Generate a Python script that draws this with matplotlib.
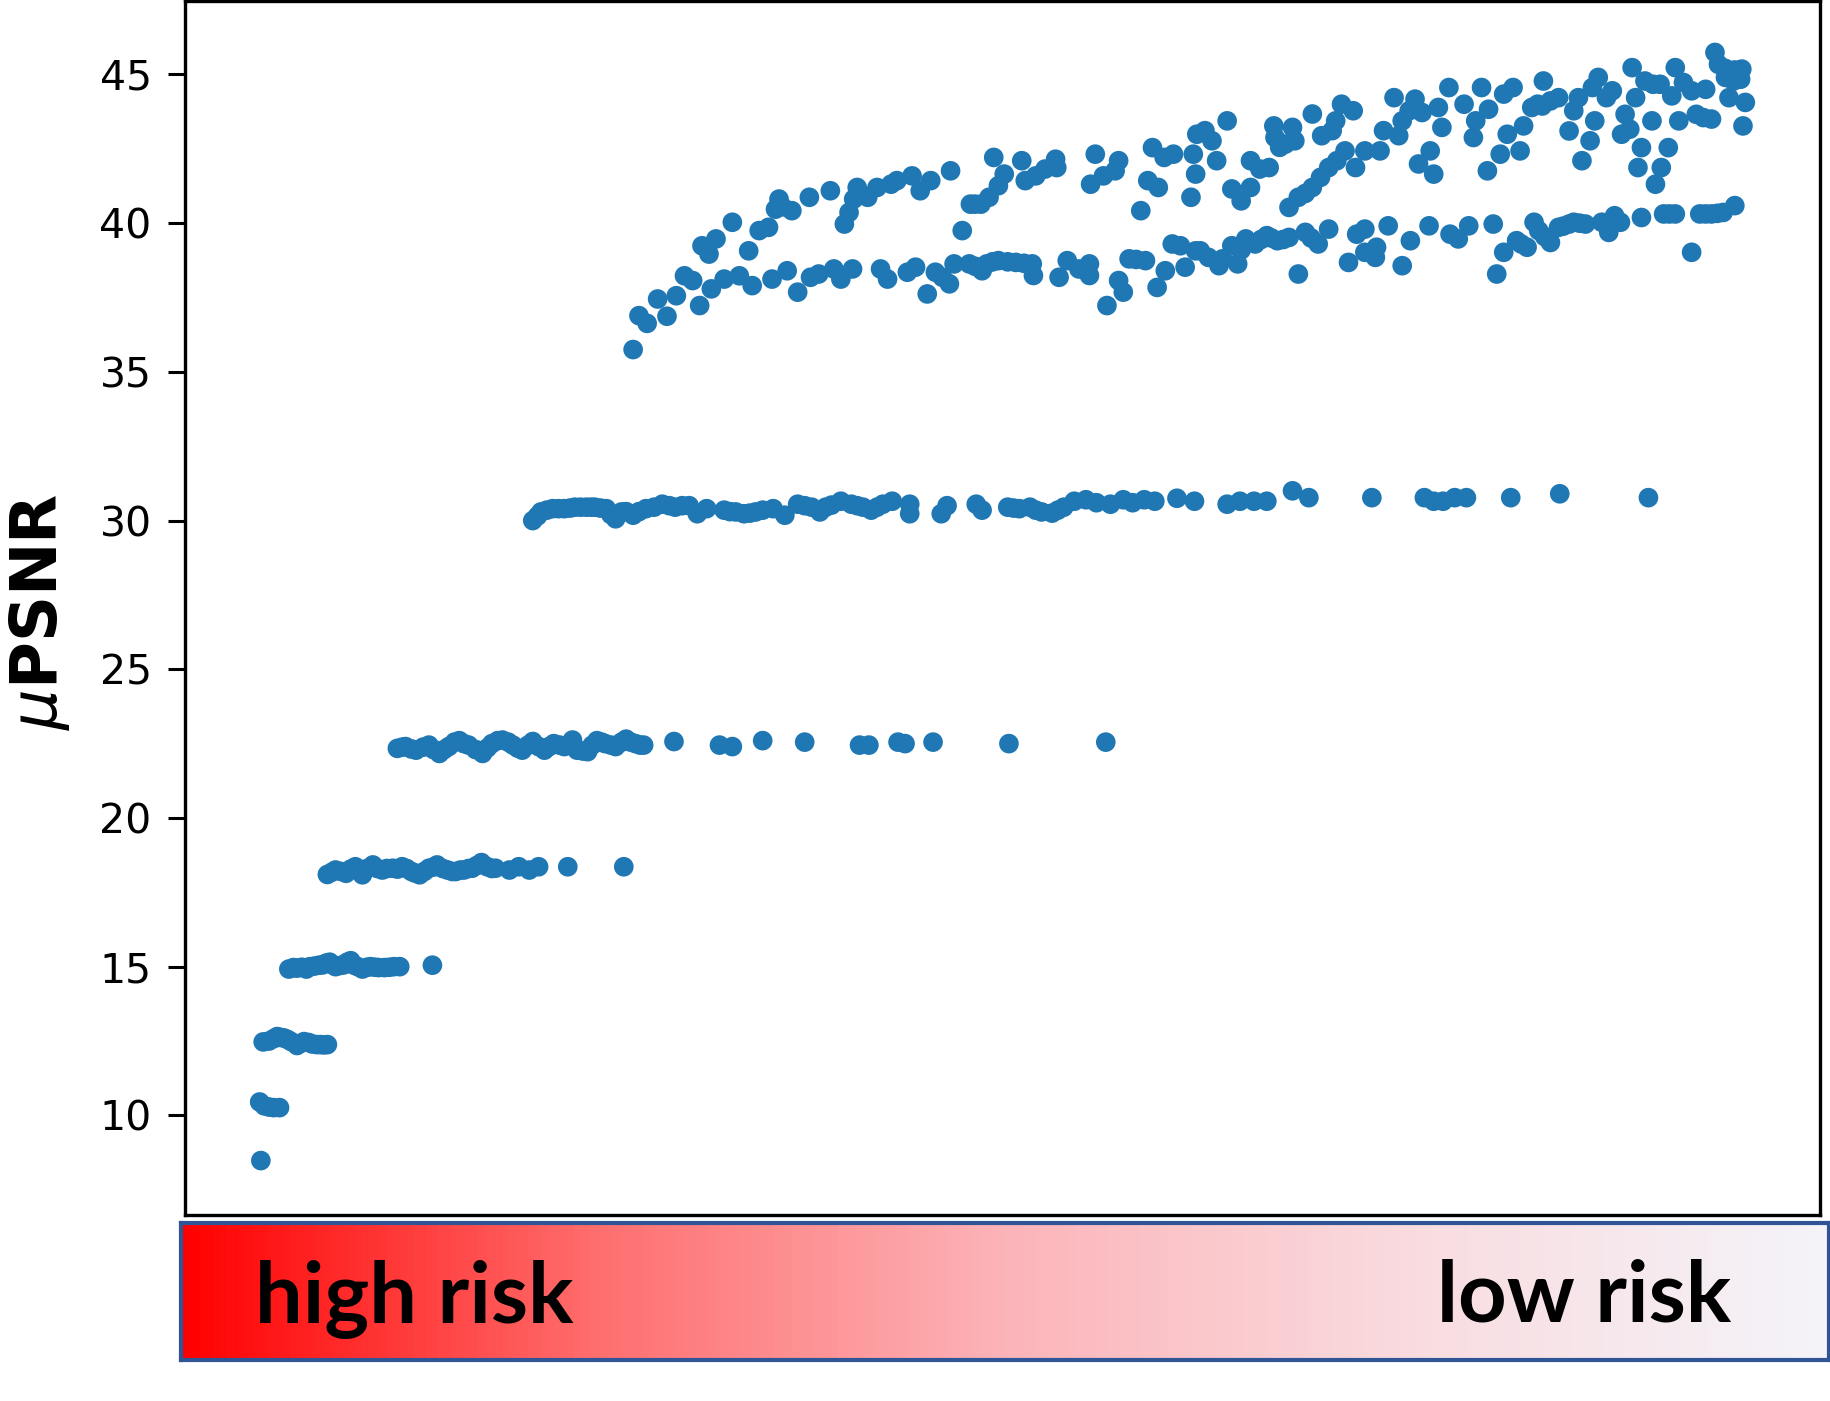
import numpy as np
import matplotlib
matplotlib.use("Agg")
import matplotlib.pyplot as plt
from matplotlib.colors import LinearSegmentedColormap

# ---------------- data (x = sample rank, y = muPSNR) ----------------
x_85 = [0]
y_85 = [8.48]

x_103 = [-1, 3, 7, 11, 16]
y_103 = [10.45, 10.32, 10.28, 10.26, 10.26]

x_124 = [2, 7, 11, 14, 17, 20, 23, 26, 31, 34, 37, 41, 44, 48, 51, 54, 57]
y_124 = [12.47, 12.5, 12.58, 12.65, 12.62, 12.6, 12.55, 12.48, 12.35, 12.42,
         12.48, 12.45, 12.4, 12.38, 12.38, 12.37, 12.38]

x_150 = [24, 28, 31, 35, 39, 42, 46, 50, 53, 56, 59, 62, 64, 68, 71, 74, 77, 80,
         83, 87, 91, 94, 98, 101, 106, 110, 114, 119, 147]
y_150 = [14.92, 14.97, 14.95, 14.98, 14.92, 15.0, 15.02, 15.05, 15.06, 15.12,
         15.15, 15.05, 15.0, 15.04, 15.06, 15.15, 15.2, 15.05, 15.0, 14.92,
         14.98, 15.0, 14.98, 14.97, 14.97, 14.98, 15.0, 15.0, 15.05]

x_182 = [57, 61, 64, 69, 73, 77, 81, 87, 91, 96, 100, 104, 108, 113, 117, 121,
         125, 129, 132, 136, 140, 144, 148, 151, 156, 160, 164, 167, 171, 174,
         178, 181, 185, 189, 194, 198, 201, 213, 221, 230, 238, 263, 311]
y_182 = [18.1, 18.18, 18.25, 18.2, 18.14, 18.28, 18.36, 18.09, 18.3, 18.42,
         18.3, 18.25, 18.3, 18.31, 18.28, 18.36, 18.3, 18.2, 18.15, 18.09,
         18.2, 18.31, 18.35, 18.42, 18.3, 18.25, 18.2, 18.2, 18.25, 18.25,
         18.3, 18.31, 18.4, 18.5, 18.36, 18.3, 18.31, 18.25, 18.36, 18.25,
         18.36, 18.36, 18.36]

x_224 = [117, 121, 124, 129, 133, 139, 144, 148, 153, 157, 161, 166, 170, 174,
         178, 184, 190, 194, 198, 203, 207, 212, 216, 220, 224, 229, 233, 238,
         243, 247, 251, 256, 260, 267, 271, 276, 280, 284, 288, 292, 295, 300,
         304, 309, 313, 317, 321, 325, 328, 354, 393, 404, 430, 466, 513, 521,
         546, 552, 576, 641, 724]
y_224 = [22.34, 22.38, 22.4, 22.32, 22.28, 22.38, 22.45, 22.3, 22.17, 22.3,
         22.4, 22.55, 22.6, 22.5, 22.45, 22.3, 22.17, 22.35, 22.5, 22.6,
         22.62, 22.55, 22.45, 22.35, 22.28, 22.45, 22.57, 22.4, 22.28, 22.4,
         22.5, 22.45, 22.4, 22.62, 22.28, 22.25, 22.23, 22.45, 22.6, 22.55,
         22.5, 22.45, 22.4, 22.55, 22.65, 22.55, 22.5, 22.45, 22.45, 22.57,
         22.45, 22.4, 22.6, 22.55, 22.45, 22.45, 22.55, 22.5, 22.55, 22.5,
         22.55]

x_304 = [233, 237, 240, 245, 250, 255, 260, 265, 269, 274, 279, 283, 286, 291,
         296, 300, 304, 309, 313, 319, 324, 330, 337, 344, 350, 355, 361, 367,
         374, 382, 397, 402, 407, 414, 419, 424, 430, 439, 449, 460, 466, 472,
         479, 484, 489, 497, 506, 511, 516, 523, 528, 533, 541, 556, 556, 583,
         588, 613, 618, 640, 645, 650, 659, 664, 669, 678, 683, 688, 697, 707,
         716, 728, 739, 747, 757, 766, 785, 800, 828, 839, 851, 862, 884, 898,
         952, 997, 1005, 1013, 1023, 1033, 1071, 1113, 1189]
y_304 = [30.0, 30.15, 30.29, 30.35, 30.4, 30.4, 30.4, 30.42, 30.45, 30.45,
         30.45, 30.45, 30.45, 30.42, 30.4, 30.2, 30.06, 30.29, 30.3, 30.18,
         30.3, 30.4, 30.45, 30.55, 30.5, 30.45, 30.5, 30.5, 30.23, 30.4,
         30.35, 30.3, 30.29, 30.23, 30.25, 30.29, 30.35, 30.4, 30.18, 30.55,
         30.5, 30.45, 30.29, 30.45, 30.52, 30.65, 30.55, 30.5, 30.45, 30.35,
         30.45, 30.55, 30.65, 30.55, 30.23, 30.23, 30.5, 30.55, 30.35, 30.45,
         30.42, 30.4, 30.45, 30.35, 30.29, 30.25, 30.35, 30.45, 30.65, 30.7,
         30.6, 30.55, 30.7, 30.6, 30.7, 30.65, 30.75, 30.65, 30.55, 30.65,
         30.65, 30.65, 31.0, 30.77, 30.77, 30.77, 30.65, 30.65, 30.77, 30.77,
         30.77, 30.9, 30.77]

# lower branch of the top cloud (~37-40.6)
x_mid = [319, 324, 331, 348, 340, 356, 363, 370, 376, 386, 397, 410, 421, 438,
         451, 460, 471, 478, 491, 497, 507, 531, 537, 554, 561, 571, 578, 584,
         590, 594, 607, 612, 618, 622, 627, 632, 640, 647, 654, 661, 662, 684,
         691, 701, 710, 710, 725, 735, 739, 744, 750, 758, 768, 775, 781, 788,
         792, 801, 805, 812, 821, 824, 832, 837, 840, 844, 848, 852, 857, 862,
         866, 871, 876, 881, 889, 895, 900, 906, 915, 932, 939, 946, 946, 956,
         955, 966, 978, 985, 1001, 1019, 1026, 1035, 1056, 1059, 1065, 1076,
         1080, 1085, 1091, 1095, 1100, 1105, 1112, 1116, 1121, 1125, 1130,
         1135, 1149, 1155, 1160, 1165, 1183, 1202, 1207, 1212, 1226, 1233,
         1238, 1243, 1248, 1253, 1263]
y_mid = [35.75, 36.89, 36.63, 36.87, 37.45, 37.56, 38.23, 38.07, 37.23, 37.79,
         38.12, 38.23, 37.9, 38.12, 38.4, 37.68, 38.18, 38.29, 38.46, 38.12,
         38.46, 38.46, 38.12, 38.35, 38.52, 37.62, 38.35, 38.18, 37.96, 38.63,
         38.63, 38.55, 38.4, 38.63, 38.7, 38.74, 38.7, 38.68, 38.65, 38.63,
         38.24, 38.18, 38.74, 38.46, 38.24, 38.63, 37.23, 38.07, 37.68, 38.8,
         38.78, 38.74, 37.84, 38.4, 39.3, 39.24, 38.52, 39.07, 39.07, 38.85,
         38.57, 38.8, 39.24, 38.63, 39.1, 39.47, 39.35, 39.3, 39.45, 39.58,
         39.5, 39.41, 39.45, 39.52, 38.29, 39.69, 39.5, 39.3, 39.8, 38.68,
         39.63, 39.8, 39.02, 39.19, 38.85, 39.91, 38.57, 39.41, 39.91, 39.63,
         39.47, 39.91, 39.97, 38.29, 39.02, 39.41, 39.3, 39.19, 40.03, 39.75,
         39.55, 39.35, 39.86, 39.9, 39.97, 40.03, 40.0, 39.97, 40.03, 39.69,
         40.25, 40.03, 40.19, 40.31, 40.31, 40.31, 39.02, 40.31, 40.31, 40.31,
         40.33, 40.36, 40.59]

# upper branch of the top cloud (~39-45.8)
x_top = [378, 384, 390, 404, 418, 427, 435, 441, 444, 447, 455, 470, 488, 500,
         504, 508, 511, 515, 520, 528, 540, 545, 558, 565, 574, 591, 601, 608,
         612, 617, 624, 628, 632, 637, 652, 655, 664, 672, 681, 682, 711, 715,
         722, 732, 735, 754, 760, 764, 769, 774, 782, 797, 799, 801, 802, 809,
         815, 819, 828, 832, 840, 848, 848, 856, 864, 868, 869, 873, 878, 884,
         886, 881, 889, 895, 901, 901, 908, 909, 915, 918, 921, 922, 926, 929,
         936, 938, 946, 959, 962, 971, 975, 978, 984, 989, 992, 995, 1002,
         1005, 1009, 1012, 1018, 1031, 1039, 1041, 1046, 1051, 1052, 1062,
         1065, 1068, 1073, 1079, 1082, 1089, 1094, 1098, 1099, 1105, 1112,
         1121, 1125, 1129, 1132, 1139, 1141, 1143, 1146, 1153, 1158, 1166,
         1169, 1173, 1175, 1178, 1180, 1183, 1186, 1192, 1193, 1195, 1199,
         1200, 1206, 1209, 1212, 1215, 1219, 1226, 1230, 1236, 1238, 1243,
         1246, 1249, 1255, 1255, 1258, 1262, 1263, 1268, 1269, 1270, 1272]
y_top = [39.24, 38.96, 39.47, 40.03, 39.07, 39.75, 39.86, 40.47, 40.81, 40.55,
         40.42, 40.87, 41.09, 39.97, 40.36, 40.81, 41.2, 40.95, 40.87, 41.2,
         41.31, 41.43, 41.59, 41.09, 41.43, 41.76, 39.75, 40.64, 40.64, 40.64,
         40.87, 42.21, 41.26, 41.65, 42.1, 41.43, 41.59, 41.82, 42.15, 41.87,
         41.31, 42.32, 41.59, 41.76, 42.1, 40.42, 41.43, 42.54, 41.2, 42.21,
         42.32, 40.87, 42.32, 41.65, 42.99, 43.11, 42.77, 42.1, 43.44, 41.15,
         40.75, 42.1, 41.2, 41.82, 41.87, 43.27, 42.88, 42.55, 42.66, 43.22,
         42.77, 40.53, 40.87, 41.0, 43.67, 41.2, 41.54, 42.94, 41.87, 43.11,
         43.44, 42.1, 44.0, 42.43, 43.78, 41.87, 42.43, 42.43, 43.11, 44.22,
         42.94, 43.44, 43.78, 44.17, 41.99, 43.72, 42.43, 41.65, 43.89, 43.22,
         44.56, 44.0, 42.88, 43.44, 44.56, 41.76, 43.83, 42.32, 44.34, 42.99,
         44.56, 42.43, 43.27, 43.89, 44.0, 43.94, 44.78, 44.11, 44.22, 43.1,
         43.78, 44.22, 42.1, 42.77, 44.56, 43.44, 44.9, 44.22, 44.45, 42.99,
         43.66, 43.16, 45.23, 44.22, 41.87, 42.54, 44.78, 43.44, 44.67, 41.31,
         44.67, 41.87, 42.54, 44.28, 45.23, 43.44, 44.73, 44.45, 43.66, 43.55,
         44.5, 43.5, 45.74, 45.34, 44.9, 45.2, 44.22, 44.78, 45.15, 44.84,
         45.18, 43.27, 44.06]

yticks = [10, 15, 20, 25, 30, 35, 40, 45]
risk_labels = ["high risk", "low risk"]
gradient_colors = ["#FF0000", "#FF6E6E", "#FCB4B9", "#F9DCE0", "#F4F4F9"]

# ---------------- figure ----------------
W, H = 1831, 1401
fig = plt.figure(figsize=(W / 100, H / 100), dpi=100)

ax = fig.add_axes([185 / W, 1 - 1215 / H, (1820 - 185) / W, (1215 - 1) / H])
groups = [(x_85, y_85), (x_103, y_103), (x_124, y_124), (x_150, y_150),
          (x_182, y_182), (x_224, y_224), (x_304, y_304), (x_mid, y_mid),
          (x_top, y_top)]
for xs, ys in groups:
    ax.scatter(xs, ys, s=200, color="#1f77b4", edgecolors="none", zorder=3)

ax.set_xlim(-65, 1336)
ax.set_ylim(6.65, 47.47)
ax.set_xticks([])
ax.set_yticks(yticks)
ax.set_yticklabels([str(t) for t in yticks])
ax.tick_params(axis="y", labelsize=29.5, length=12, width=2.2, pad=12,
               colors="black")
for sp in ax.spines.values():
    sp.set_linewidth(2.4)
    sp.set_color("black")

fig.text(40 / W, 1 - 612 / H, r"$\mu$PSNR", rotation=90, ha="center",
         va="center", fontsize=46, fontweight="bold")

# risk gradient bar
bax = fig.add_axes([181 / W, 1 - 1360 / H, (1829 - 181) / W, (1360 - 1223) / H])
cmap = LinearSegmentedColormap.from_list("risk", gradient_colors)
bax.imshow(np.linspace(0, 1, 512)[None, :], aspect="auto", cmap=cmap,
           extent=[0, 1, 0, 1])
bax.set_xlim(0, 1)
bax.set_ylim(0, 1)
bax.set_xticks([])
bax.set_yticks([])
for sp in bax.spines.values():
    sp.set_linewidth(3)
    sp.set_color("#2F5597")
bax.text(0.045, 0.28, risk_labels[0], ha="left", va="baseline",
         fontsize=61, fontweight="bold", family="Lato", color="black")
bax.text(0.9405, 0.28, risk_labels[1], ha="right", va="baseline",
         fontsize=61, fontweight="bold", family="Lato", color="black")

fig.savefig("out.png", dpi=100)
